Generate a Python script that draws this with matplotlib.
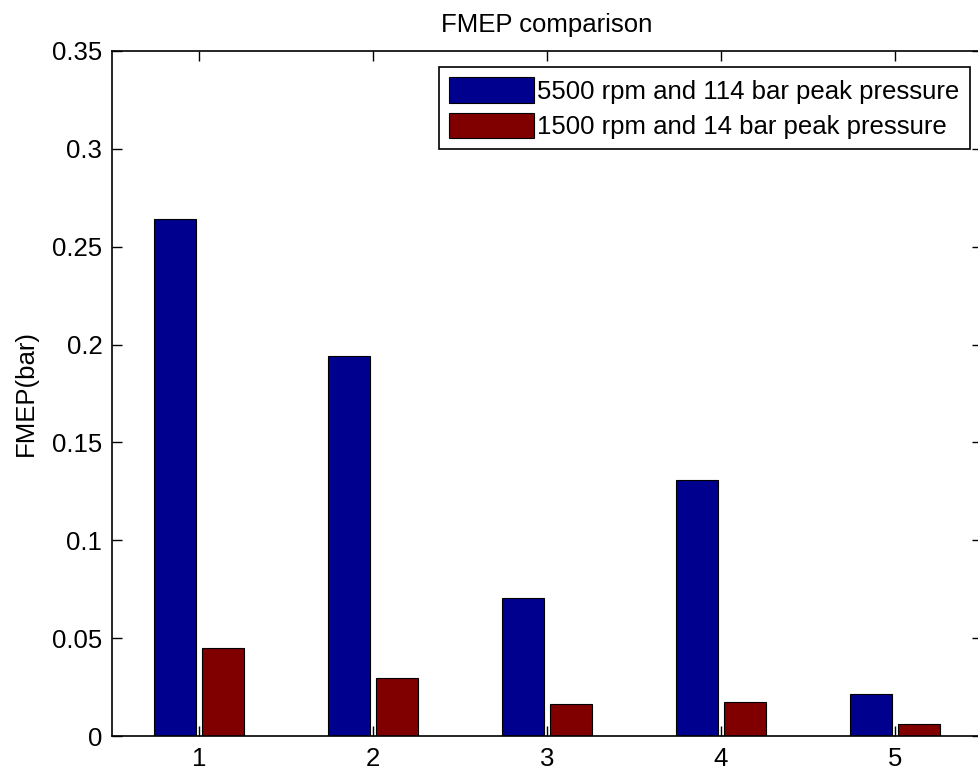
import numpy as np
import matplotlib
matplotlib.use('Agg')
import matplotlib.pyplot as plt

groups = [1, 2, 3, 4, 5]
high_load = [0.264, 0.194, 0.0705, 0.131, 0.0213]
low_load = [0.0448, 0.0295, 0.0164, 0.0174, 0.0061]
labels = ['5500 rpm and 114 bar peak pressure', '1500 rpm and 14 bar peak pressure']

plt.rcParams['font.family'] = ['Liberation Sans', 'DejaVu Sans']
fs = 18.5

fig = plt.figure(figsize=(9.79, 7.72), dpi=100)
ax = fig.add_axes([112 / 979, 36 / 772, 870 / 979, 685 / 772])

x = np.array(groups)
w = 0.24
ax.bar(x - 0.138, high_load, w, color='#00008f', edgecolor='black', linewidth=0.8, label=labels[0])
ax.bar(x + 0.138, low_load, w, color='#800000', edgecolor='black', linewidth=0.8, label=labels[1])

ax.set_xlim(0.5, 5.5)
ax.set_ylim(0, 0.35)
ax.set_xticks(groups)
ax.set_yticks([0, 0.05, 0.1, 0.15, 0.2, 0.25, 0.3, 0.35])
ax.set_yticklabels(['0', '0.05', '0.1', '0.15', '0.2', '0.25', '0.3', '0.35'])
ax.tick_params(direction='in', length=7, width=1, top=True, right=True, labelsize=fs)
ax.tick_params(axis='y', pad=7)
ax.tick_params(axis='x', pad=8)
for s in ax.spines.values():
    s.set_linewidth(1.2)

ax.set_title('FMEP comparison', fontsize=fs, pad=14)
ax.set_ylabel('FMEP(bar)', fontsize=fs, labelpad=10)

leg = ax.legend(loc='upper right', bbox_to_anchor=(858 / 870, 1 - 16 / 685), fontsize=fs,
                fancybox=False, framealpha=1, edgecolor='black', borderaxespad=0,
                handlelength=3.3, handleheight=1.15, handletextpad=0.15, labelspacing=0.35,
                borderpad=0.4)
leg.get_frame().set_linewidth(1.2)

fig.savefig('out.png', dpi=100)
